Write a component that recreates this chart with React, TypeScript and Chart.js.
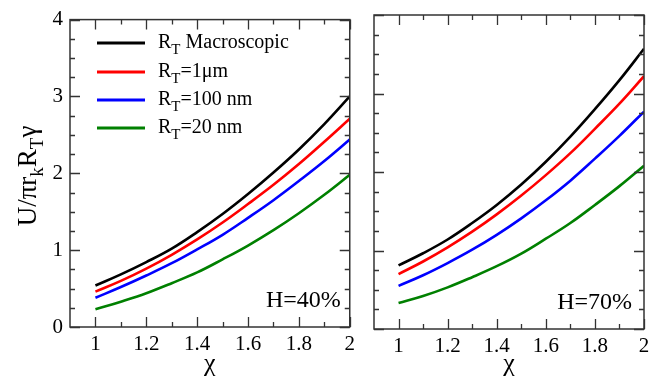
import React, { useEffect, useRef } from "react";
import { Chart, registerables } from "chart.js";

Chart.register(...registerables);

// ---------------- data ----------------
const chi = [1.0, 1.1, 1.2, 1.3, 1.4, 1.5, 1.6, 1.7, 1.8, 1.9, 2.0];

// H = 40 %
const h40Macro = [0.54, 0.685, 0.845, 1.02, 1.235, 1.47, 1.73, 2.01, 2.31, 2.64, 3.0];
const h40R1um = [0.46, 0.6, 0.76, 0.94, 1.14, 1.36, 1.6, 1.85, 2.12, 2.41, 2.71];
const h40R100nm = [0.38, 0.52, 0.67, 0.83, 1.01, 1.2, 1.42, 1.65, 1.9, 2.16, 2.44];
const h40R20nm = [0.23, 0.33, 0.44, 0.57, 0.71, 0.88, 1.06, 1.26, 1.48, 1.72, 1.98];

// H = 70 %
const h70Macro = [0.81, 0.965, 1.14, 1.35, 1.58, 1.84, 2.13, 2.45, 2.8, 3.17, 3.57];
const h70R1um = [0.7, 0.86, 1.04, 1.24, 1.46, 1.7, 1.96, 2.24, 2.55, 2.87, 3.22];
const h70R100nm = [0.55, 0.685, 0.84, 1.01, 1.2, 1.41, 1.64, 1.89, 2.17, 2.46, 2.77];
const h70R20nm = [0.33, 0.42, 0.53, 0.66, 0.8, 0.96, 1.15, 1.35, 1.58, 1.82, 2.08];

const seriesColors = ["#000000", "#ff0000", "#0000ff", "#008000"];
const legendMain = ["R", "R", "R", "R"];
const legendSub = ["T", "T", "T", "T"];
const legendRest = [" Macroscopic", "=1\u03bcm", "=100 nm", "=20 nm"];

const xTickLabels = [1, 1.2, 1.4, 1.6, 1.8, 2];
const xMinorTicks = [1.1, 1.3, 1.5, 1.7, 1.9];
const yTickLabels = [0, 1, 2, 3, 4];
const yMinorTicks = [0.25, 0.5, 0.75, 1.25, 1.5, 1.75, 2.25, 2.5, 2.75, 3.25, 3.5, 3.75];

const X_MIN = 0.9;
const X_MAX = 2.0;
const Y_MIN = 0;
const Y_MAX = 4;

const SERIF = "'Liberation Serif', 'DejaVu Serif', serif";

type PanelOpts = {
  showYLabels: boolean;
  yAxisWidth: number;
  xAxisHeight: number;
  padRight: number;
  hLabel: string;
  hOffset: number;
  legend: boolean;
  yTitle: boolean;
  series: number[][];
};

function drawSubText(
  ctx: CanvasRenderingContext2D,
  parts: { t: string; sub?: boolean }[],
  x: number,
  y: number,
  mainSize: number,
  subSize: number,
  subDrop: number,
  measureOnly = false
): number {
  let cx = x;
  for (const p of parts) {
    ctx.font = `${p.sub ? subSize : mainSize}px ${SERIF}`;
    if (!measureOnly) ctx.fillText(p.t, cx, y + (p.sub ? subDrop : 0));
    cx += ctx.measureText(p.t).width;
  }
  return cx - x;
}

function makePanelPlugin(o: PanelOpts) {
  return {
    id: "panelDecor",
    afterDraw(chart: any) {
      const { ctx, chartArea: a, scales } = chart;
      const xs = scales.x;
      const ys = scales.y;
      ctx.save();
      // frame
      ctx.strokeStyle = "#333333";
      ctx.lineWidth = 1.5;
      ctx.strokeRect(a.left, a.top, a.right - a.left, a.bottom - a.top);
      // ticks (inward, all four sides)
      ctx.lineWidth = 1.3;
      ctx.beginPath();
      const xt = (v: number, len: number) => {
        const px = Math.round(xs.getPixelForValue(v)) + 0.5;
        ctx.moveTo(px, a.bottom);
        ctx.lineTo(px, a.bottom - len);
        ctx.moveTo(px, a.top);
        ctx.lineTo(px, a.top + len);
      };
      const yt = (v: number, len: number) => {
        const py = Math.round(ys.getPixelForValue(v)) + 0.5;
        ctx.moveTo(a.left, py);
        ctx.lineTo(a.left + len, py);
        ctx.moveTo(a.right, py);
        ctx.lineTo(a.right - len, py);
      };
      xTickLabels.forEach((v) => xt(v, 10));
      xMinorTicks.forEach((v) => xt(v, 5));
      yTickLabels.forEach((v) => yt(v, 10));
      yMinorTicks.forEach((v) => yt(v, 5));
      ctx.stroke();

      ctx.fillStyle = "#000000";
      ctx.textBaseline = "alphabetic";
      // x title
      ctx.font = `26px ${SERIF}`;
      ctx.textAlign = "center";
      ctx.fillText("\u03c7", (a.left + a.right) / 2, 371);

      // H label
      ctx.font = `24px ${SERIF}`;
      ctx.textAlign = "right";
      ctx.fillText(o.hLabel, a.right - o.hOffset, a.bottom - 20);

      ctx.textAlign = "left";
      // legend
      if (o.legend) {
        const rows = [43, 72, 100, 128];
        rows.forEach((ry, i) => {
          ctx.strokeStyle = seriesColors[i];
          ctx.lineWidth = 3;
          ctx.beginPath();
          ctx.moveTo(97, ry);
          ctx.lineTo(145, ry);
          ctx.stroke();
          ctx.fillStyle = "#000000";
          drawSubText(
            ctx,
            [{ t: legendMain[i] }, { t: legendSub[i], sub: true }, { t: legendRest[i] }],
            158,
            ry + 5,
            20,
            15,
            6
          );
        });
      }

      // y title
      if (o.yTitle) {
        const parts = [
          { t: "U/\u03c0r" },
          { t: "k", sub: true },
          { t: "R" },
          { t: "T", sub: true },
          { t: "\u03b3" },
        ];
        ctx.save();
        ctx.translate(36, 176);
        ctx.rotate(-Math.PI / 2);
        const w = drawSubText(ctx, parts, 0, 0, 27, 19, 7, true);
        drawSubText(ctx, parts, -w / 2, 0, 27, 19, 7);
        ctx.restore();
      }
      ctx.restore();
    },
  };
}

function Panel(props: { o: PanelOpts; width: number; height: number; left: number }) {
  const ref = useRef<HTMLCanvasElement | null>(null);
  const { o } = props;
  useEffect(() => {
    if (!ref.current) return;
    const datasets = o.series.map((vals, i) => ({
      data: chi.map((x, j) => ({ x, y: vals[j] })),
      borderColor: seriesColors[i],
      borderWidth: 2.6,
      pointRadius: 0,
      fill: false,
      tension: 0.4,
    }));
    const chart = new Chart(ref.current, {
      type: "line",
      data: { datasets },
      options: {
        animation: false,
        responsive: false,
        maintainAspectRatio: false,
        layout: { padding: { top: 15, right: o.padRight, bottom: 0, left: 0 } },
        plugins: { legend: { display: false }, tooltip: { enabled: false } },
        scales: {
          x: {
            type: "linear",
            min: X_MIN,
            max: X_MAX,
            grid: { display: false, drawTicks: false },
            border: { display: false },
            afterBuildTicks: (s: any) => {
              s.ticks = xTickLabels.map((v) => ({ value: v }));
            },
            afterFit: (s: any) => {
              s.height = o.xAxisHeight;
            },
            ticks: {
              padding: 5,
              color: "#000000",
              font: { family: SERIF, size: 21 },
              maxRotation: 0,
              autoSkip: false,
              callback: (v: any) => String(v),
            },
          },
          y: {
            type: "linear",
            min: Y_MIN,
            max: Y_MAX,
            grid: { display: false, drawTicks: false },
            border: { display: false },
            afterBuildTicks: (s: any) => {
              s.ticks = yTickLabels.map((v) => ({ value: v }));
            },
            afterFit: (s: any) => {
              s.width = o.yAxisWidth;
            },
            ticks: {
              display: o.showYLabels,
              padding: 7,
              color: "#000000",
              font: { family: SERIF, size: 21 },
              autoSkip: false,
              callback: (v: any) => String(v),
            },
          },
        },
      },
      plugins: [makePanelPlugin(o)],
    });
    return () => chart.destroy();
  }, []);
  return (
    <canvas
      ref={ref}
      width={props.width}
      height={props.height}
      style={{ position: "absolute", left: props.left, top: 0, width: props.width, height: props.height }}
    />
  );
}

export default function App() {
  const left: PanelOpts = {
    showYLabels: true,
    yAxisWidth: 70,
    xAxisHeight: 54,
    padRight: 8,
    hLabel: "H=40%",
    hOffset: 9,
    legend: true,
    yTitle: true,
    series: [h40Macro, h40R1um, h40R100nm, h40R20nm],
  };
  const right: PanelOpts = {
    showYLabels: false,
    yAxisWidth: 14,
    xAxisHeight: 52,
    padRight: 23,
    hLabel: "H=70%",
    hOffset: 12,
    legend: false,
    yTitle: false,
    series: [h70Macro, h70R1um, h70R100nm, h70R20nm],
  };
  return (
    <div style={{ position: "fixed", left: 0, top: 0, width: 667, height: 381, background: "#ffffff" }}>
      <Panel o={left} width={360} height={381} left={0} />
      <Panel o={right} width={307} height={381} left={360} />
    </div>
  );
}
